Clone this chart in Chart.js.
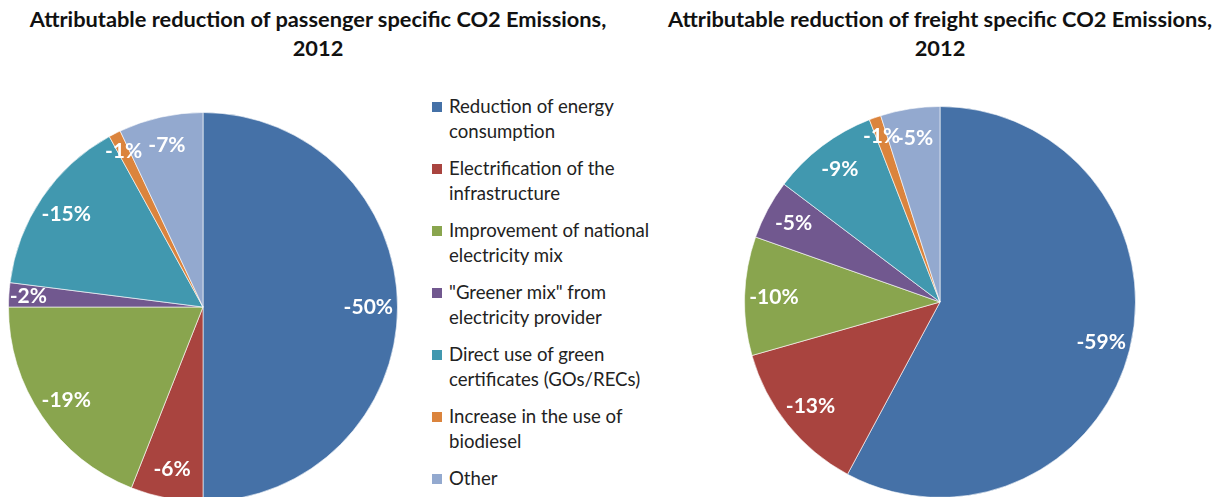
<!DOCTYPE html>
<html>
<head>
<meta charset="utf-8">
<script src="https://cdn.jsdelivr.net/npm/chart.js@4"></script>
<style>
  html, body { margin: 0; padding: 0; background: #fff; overflow: hidden; }
  body { width: 1221px; height: 497px; position: relative; font-family: Lato, "Open Sans", sans-serif; }
  .title { position: absolute; font-weight: bold; font-size: 21.8px; line-height: 29px; text-align: center; color: #111; }
  #box1 { position: absolute; left: 8px; top: 112px; width: 390px; height: 390px; }
  #box2 { position: absolute; left: 744px; top: 106px; width: 392px; height: 392px; }
  #legend { position: absolute; left: 432px; top: 94px; width: 225px; }
  .item { position: relative; padding-left: 17px; font-size: 18.6px; line-height: 25px; color: #222; margin-bottom: 12px; }
  .item span { position: absolute; left: 0; top: 8px; width: 10px; height: 10px; }
</style>
</head>
<body>
<div class="title" style="left:8px; top:4px; width:620px;">Attributable reduction of passenger specific CO2 Emissions,<br>2012</div>
<div class="title" style="left:640px; top:4px; width:600px;">Attributable reduction of freight specific CO2 Emissions,<br>2012</div>
<div id="box1"><canvas id="pass"></canvas></div>
<div id="box2"><canvas id="freight"></canvas></div>
<div id="legend"></div>
<script>
var categories = [
  'Reduction of energy consumption',
  'Electrification of the infrastructure',
  'Improvement of national electricity mix',
  '"Greener mix" from electricity provider',
  'Direct use of green certificates (GOs/RECs)',
  'Increase in the use of biodiesel',
  'Other'
];
var passenger = [50, 6, 19, 2, 15, 1, 7];
var freight = [59, 13, 10, 5, 9, 1, 5];
var colors = ['#4571a7', '#a9443f', '#89a54e', '#71588f', '#4198af', '#db843d', '#93a9cf'];

// legend in html so the names can wrap like the original
var leg = document.getElementById('legend');
for (var k = 0; k < categories.length; k++) {
  var d = document.createElement('div');
  d.className = 'item';
  d.innerHTML = '<span style="background:' + colors[k] + '"></span>';
  d.appendChild(document.createTextNode(categories[k]));
  leg.appendChild(d);
}

// white percentage labels inside the slices
var sliceLabels = {
  id: 'sliceLabels',
  afterDatasetsDraw: function(chart) {
    var ctx = chart.ctx;
    var meta = chart.getDatasetMeta(0);
    var vals = chart.data.datasets[0].data;
    ctx.save();
    ctx.fillStyle = '#fff';
    ctx.font = 'bold 21px Lato, "Open Sans", sans-serif';
    ctx.textAlign = 'center';
    ctx.textBaseline = 'middle';
    meta.data.forEach(function(arc, i) {
      var mid = (arc.startAngle + arc.endAngle) / 2;
      // small slices get their label pushed a bit further out
      var f = (arc.endAngle - arc.startAngle) < 0.2 ? 0.9 : 0.85;
      var r = arc.outerRadius * f;
      ctx.fillText('-' + vals[i] + '%', arc.x + Math.cos(mid) * r, arc.y + Math.sin(mid) * r);
    });
    ctx.restore();
  }
};

function makePie(id, values) {
  return new Chart(document.getElementById(id), {
    type: 'pie',
    data: {
      labels: categories,
      datasets: [{
        data: values,
        backgroundColor: colors,
        borderColor: 'rgba(255,255,255,0.6)',
        borderWidth: 1
      }]
    },
    options: {
      responsive: true,
      maintainAspectRatio: false,
      animation: false,
      layout: { padding: 0 },
      plugins: { legend: { display: false }, tooltip: { enabled: false } }
    },
    plugins: [sliceLabels]
  });
}

makePie('pass', passenger);
makePie('freight', freight);
</script>
</body>
</html>
